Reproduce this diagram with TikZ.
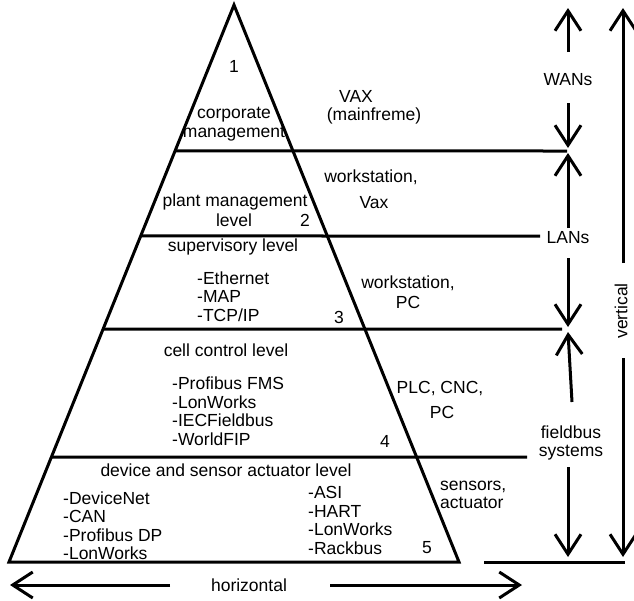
\documentclass[tikz,border=0pt]{standalone}
\usepackage{fontspec}
\setmainfont{Liberation Sans}
\usetikzlibrary{arrows.meta,calc}

\begin{document}
\begin{tikzpicture}[x=1pt,y=-1pt,
    lbl/.style={inner sep=0, font=\fontsize{17.5}{18.5}\selectfont},
    lst/.style={lbl, align=left, anchor=west},
    lvl/.style={line width=3pt},
    bigarrow/.style={line width=3pt, -{Straight Barb[length=20pt,width=26pt]}}
    ]
 \useasboundingbox (0,0) rectangle (634,600);

 \coordinate (apex) at (234,5);
 \coordinate (bl) at (9,562);
 \coordinate (br) at (459,562);
 \draw[lvl, line join=miter] (bl) -- (apex) -- (br) -- cycle;
 \draw[lvl] ($(apex)!0.262!(bl)$) -- (567,151);
 \draw[lvl] ($(apex)!0.4147!(bl)$) -- (540,236);
 \draw[lvl] ($(apex)!0.5817!(bl)$) -- (562,329);
 \draw[lvl] ($(apex)!0.8115!(bl)$) -- (527,457);
 \draw[lvl] (484,562) -- (625,562);

 \node[lbl] (n1) at (234,66) {1};
 \node[lbl, align=center] (corp) at (234,124) {corporate\\management};
 \node[lbl] (vax) at (356,96) {VAX};
 \node[lbl] (mainf) at (374,116) {(mainfreme)};

 \node[lbl] (plant) at (235,202) {plant management};
 \node[lbl] (plantlvl) at (234,220) {level};
 \node[lbl] (n2) at (305,220) {2};
 \node[lbl] (ws1) at (371,177) {workstation,};
 \node[lbl] (vax2) at (374,203) {Vax};

 \node[lbl] (superv) at (233,247) {supervisory level};
 \node[lst] (lanlist) at (197,296.5) {-Ethernet\\-MAP\\-TCP/IP};
 \node[lbl] (n3) at (339,317) {3};
 \node[lbl] (ws2) at (408,283) {workstation,};
 \node[lbl] (pc1) at (408,302) {PC};

 \node[lbl] (cell) at (226,350) {cell control level};
 \node[lst] (celllist) at (172,411) {-Profibus FMS\\-LonWorks\\-IECFieldbus\\-WorldFIP};
 \node[lbl] (n4) at (385,441) {4};
 \node[lbl] (plc) at (440,389) {PLC, CNC,};
 \node[lbl] (pc2) at (442,412) {PC};

 \node[lbl] (device) at (226,470) {device and sensor actuator level};
 \node[lst] (devlist) at (63,525.5) {-DeviceNet\\-CAN\\-Profibus DP\\-LonWorks};
 \node[lst] (asilist) at (308,520.5) {-ASI\\-HART\\-LonWorks\\-Rackbus};
 \node[lbl] (n5) at (427,548) {5};
 \node[lst] (sensors) at (440,495) {sensors,\\actuator};

 \node[lbl] (wans) at (568,80) {WANs};
 \node[lbl] (lans) at (568,238) {LANs};
 \node[lbl, align=center] (fieldbus) at (571,443) {fieldbus\\systems};
 \node[lbl, rotate=90] (vertical) at (621,311) {vertical};
 \node[lbl] (horizontal) at (249,585) {horizontal};

 \coordinate (wanTop) at (568,8);
 \coordinate (wanBot) at (568,148);
 \coordinate (lanTop) at (568,153);
 \coordinate (lanBot) at (568,327);
 \coordinate (fbTop) at (568,332);
 \coordinate (fbBot) at (568,557);
 \coordinate (vTop) at (623,8);
 \coordinate (vBot) at (623,557);
 \coordinate (hLeft) at (10,585);
 \coordinate (hRight) at (522,585);

 \draw[bigarrow] (568,52) -- (wanTop);
 \draw[bigarrow] (568,103) -- (wanBot);
 \draw[bigarrow] (568,228) -- (lanTop);
 \draw[bigarrow] (568,258) -- (lanBot);
 \draw[bigarrow] (572,402) -- (fbTop);
 \draw[bigarrow] (568,467) -- (fbBot);
 \draw[bigarrow] (623,263) -- (vTop);
 \draw[bigarrow] (623,358) -- (vBot);
 \draw[bigarrow] (170,585) -- (hLeft);
 \draw[bigarrow] (330,585) -- (hRight);
\end{tikzpicture}
\end{document}
